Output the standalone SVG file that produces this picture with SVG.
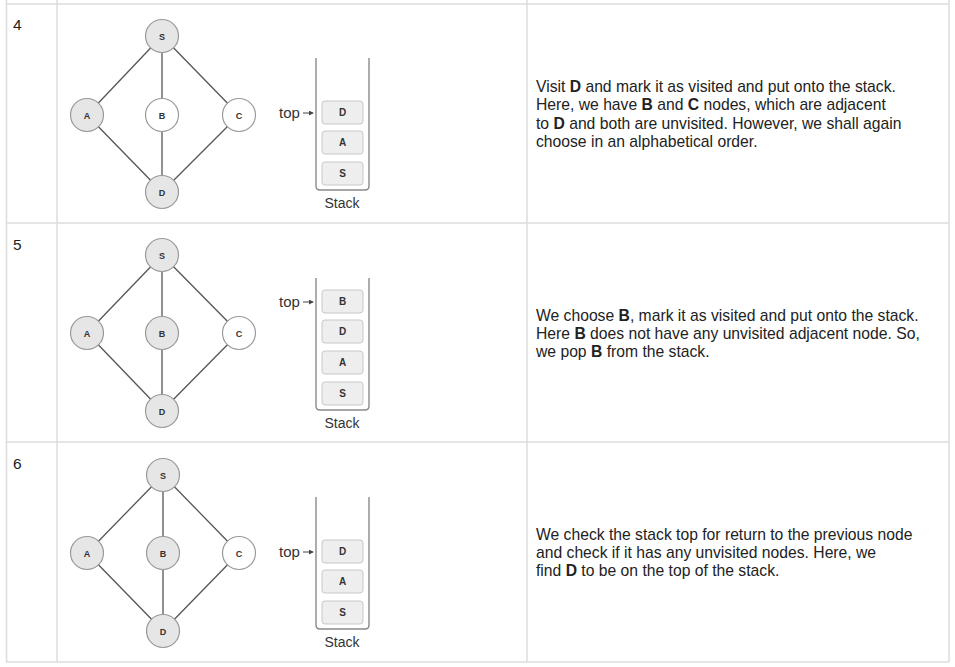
<svg xmlns="http://www.w3.org/2000/svg" width="955" height="667" viewBox="0 0 955 667">
<style>
.grid{stroke:#dcdcdc;stroke-width:1.5;fill:none}
.num{font-family:"Liberation Sans",Arial,sans-serif;font-size:15.5px;fill:#222}
.desc{font-family:"Liberation Sans",Arial,sans-serif;font-size:15.7px;fill:#222}
.desc tspan.b{font-weight:bold}
.edge{stroke:#555;stroke-width:1.3}
.nv{fill:#e6e6e6;stroke:#999;stroke-width:1.2}
.nu{fill:#fff;stroke:#999;stroke-width:1.2}
.nl{font-family:"Liberation Sans",Arial,sans-serif;font-size:9px;font-weight:bold;fill:#333;text-anchor:middle}
.wall{fill:none;stroke:#8a8a8a;stroke-width:1.4}
.box{fill:#eeeeee;stroke:#c8c8c8;stroke-width:1}
.bl{font-family:"Liberation Sans",Arial,sans-serif;font-size:10px;font-weight:bold;fill:#333;text-anchor:middle}
.top{font-family:"Liberation Sans",Arial,sans-serif;font-size:15px;fill:#333}
.cap{font-family:"Liberation Sans",Arial,sans-serif;font-size:14px;fill:#333;text-anchor:middle}
.arr{stroke:#444;stroke-width:1}
</style>
<defs>
<marker id="ah" viewBox="0 0 6 6" refX="5" refY="3" markerWidth="5" markerHeight="5" orient="auto" markerUnits="userSpaceOnUse">
<path d="M0,0 L6,3 L0,6 z" fill="#444"/>
</marker>
</defs>
<rect width="955" height="667" fill="#fff"/>
<g id="table">
<line class="grid" x1="6.5" y1="0" x2="6.5" y2="662"/>
<line class="grid" x1="57" y1="0" x2="57" y2="662"/>
<line class="grid" x1="527" y1="0" x2="527" y2="662"/>
<line class="grid" x1="949" y1="0" x2="949" y2="662"/>
<line class="grid" x1="6" y1="4" x2="949" y2="4"/>
<line class="grid" x1="6" y1="223" x2="949" y2="223"/>
<line class="grid" x1="6" y1="442" x2="949" y2="442"/>
<line class="grid" x1="6" y1="662" x2="949" y2="662"/>
<text class="num" x="13" y="30">4</text>
<text class="num" x="13" y="250">5</text>
<text class="num" x="13" y="469">6</text>
</g>

<!-- Row 4 -->
<g id="connectors-4">
<line class="edge" x1="162" y1="36" x2="87" y2="115"/>
<line class="edge" x1="162" y1="36" x2="162" y2="115"/>
<line class="edge" x1="162" y1="36" x2="239" y2="115"/>
<line class="edge" x1="87" y1="115" x2="162" y2="192"/>
<line class="edge" x1="162" y1="115" x2="162" y2="192"/>
<line class="edge" x1="239" y1="115" x2="162" y2="192"/>
</g>
<g id="r4-S"><circle class="nv" cx="162" cy="36" r="16.5"/><text class="nl" x="162" y="39.5">S</text></g>
<g id="r4-A"><circle class="nv" cx="87" cy="115" r="16.5"/><text class="nl" x="87" y="118.5">A</text></g>
<g id="r4-B"><circle class="nu" cx="162" cy="115" r="16.5"/><text class="nl" x="162" y="118.5">B</text></g>
<g id="r4-C"><circle class="nu" cx="239" cy="115" r="16.5"/><text class="nl" x="239" y="118.5">C</text></g>
<g id="r4-D"><circle class="nv" cx="162" cy="192" r="16.5"/><text class="nl" x="162" y="195.5">D</text></g>
<g id="r4-stack">
<path class="wall" d="M316,58 V186 Q316,190 320,190 H365 Q369,190 369,186 V58"/>
<rect class="box" x="322" y="101" width="41" height="23" rx="3"/><text class="bl" x="342.5" y="116">D</text>
<rect class="box" x="322" y="131" width="41" height="23" rx="3"/><text class="bl" x="342.5" y="146">A</text>
<rect class="box" x="322" y="162" width="41" height="23" rx="3"/><text class="bl" x="342.5" y="177">S</text>
<text class="cap" x="342" y="208">Stack</text>
<text class="top" x="279" y="118">top</text>
<line class="arr" x1="303" y1="113" x2="313" y2="113" marker-end="url(#ah)"/>
</g>
<text class="desc" x="536" y="92">Visit <tspan class="b">D</tspan> and mark it as visited and put onto the stack.</text>
<text class="desc" x="536" y="110">Here, we have <tspan class="b">B</tspan> and <tspan class="b">C</tspan> nodes, which are adjacent</text>
<text class="desc" x="536" y="129">to <tspan class="b">D</tspan> and both are unvisited. However, we shall again</text>
<text class="desc" x="536" y="147">choose in an alphabetical order.</text>

<!-- Row 5 -->
<g id="connectors-5">
<line class="edge" x1="162" y1="255" x2="87" y2="333"/>
<line class="edge" x1="162" y1="255" x2="162" y2="333"/>
<line class="edge" x1="162" y1="255" x2="239" y2="333"/>
<line class="edge" x1="87" y1="333" x2="162" y2="411"/>
<line class="edge" x1="162" y1="333" x2="162" y2="411"/>
<line class="edge" x1="239" y1="333" x2="162" y2="411"/>
</g>
<g id="r5-S"><circle class="nv" cx="162" cy="255" r="16.5"/><text class="nl" x="162" y="258.5">S</text></g>
<g id="r5-A"><circle class="nv" cx="87" cy="333" r="16.5"/><text class="nl" x="87" y="336.5">A</text></g>
<g id="r5-B"><circle class="nv" cx="162" cy="333" r="16.5"/><text class="nl" x="162" y="336.5">B</text></g>
<g id="r5-C"><circle class="nu" cx="239" cy="333" r="16.5"/><text class="nl" x="239" y="336.5">C</text></g>
<g id="r5-D"><circle class="nv" cx="162" cy="411" r="16.5"/><text class="nl" x="162" y="414.5">D</text></g>
<g id="r5-stack">
<path class="wall" d="M316,278 V406 Q316,410 320,410 H365 Q369,410 369,406 V278"/>
<rect class="box" x="322" y="290" width="41" height="23" rx="3"/><text class="bl" x="342.5" y="305">B</text>
<rect class="box" x="322" y="320" width="41" height="23" rx="3"/><text class="bl" x="342.5" y="335">D</text>
<rect class="box" x="322" y="351" width="41" height="23" rx="3"/><text class="bl" x="342.5" y="366">A</text>
<rect class="box" x="322" y="382" width="41" height="23" rx="3"/><text class="bl" x="342.5" y="397">S</text>
<text class="cap" x="342" y="428">Stack</text>
<text class="top" x="279" y="307">top</text>
<line class="arr" x1="303" y1="302" x2="313" y2="302" marker-end="url(#ah)"/>
</g>
<text class="desc" x="536" y="321">We choose <tspan class="b">B</tspan>, mark it as visited and put onto the stack.</text>
<text class="desc" x="536" y="339">Here <tspan class="b">B</tspan> does not have any unvisited adjacent node. So,</text>
<text class="desc" x="536" y="357">we pop <tspan class="b">B</tspan> from the stack.</text>

<!-- Row 6 -->
<g id="connectors-6">
<line class="edge" x1="163" y1="475" x2="87" y2="553"/>
<line class="edge" x1="163" y1="475" x2="163" y2="553"/>
<line class="edge" x1="163" y1="475" x2="239" y2="553"/>
<line class="edge" x1="87" y1="553" x2="163" y2="631"/>
<line class="edge" x1="163" y1="553" x2="163" y2="631"/>
<line class="edge" x1="239" y1="553" x2="163" y2="631"/>
</g>
<g id="r6-S"><circle class="nv" cx="163" cy="475" r="16.5"/><text class="nl" x="163" y="478.5">S</text></g>
<g id="r6-A"><circle class="nv" cx="87" cy="553" r="16.5"/><text class="nl" x="87" y="556.5">A</text></g>
<g id="r6-B"><circle class="nv" cx="163" cy="553" r="16.5"/><text class="nl" x="163" y="556.5">B</text></g>
<g id="r6-C"><circle class="nu" cx="239" cy="553" r="16.5"/><text class="nl" x="239" y="556.5">C</text></g>
<g id="r6-D"><circle class="nv" cx="163" cy="631" r="16.5"/><text class="nl" x="163" y="634.5">D</text></g>
<g id="r6-stack">
<path class="wall" d="M316,497 V625 Q316,629 320,629 H365 Q369,629 369,625 V497"/>
<rect class="box" x="322" y="540" width="41" height="23" rx="3"/><text class="bl" x="342.5" y="555">D</text>
<rect class="box" x="322" y="570" width="41" height="23" rx="3"/><text class="bl" x="342.5" y="585">A</text>
<rect class="box" x="322" y="601" width="41" height="23" rx="3"/><text class="bl" x="342.5" y="616">S</text>
<text class="cap" x="342" y="647">Stack</text>
<text class="top" x="279" y="557">top</text>
<line class="arr" x1="303" y1="552" x2="313" y2="552" marker-end="url(#ah)"/>
</g>
<text class="desc" x="536" y="540">We check the stack top for return to the previous node</text>
<text class="desc" x="536" y="558">and check if it has any unvisited nodes. Here, we</text>
<text class="desc" x="536" y="576">find <tspan class="b">D</tspan> to be on the top of the stack.</text>
</svg>
